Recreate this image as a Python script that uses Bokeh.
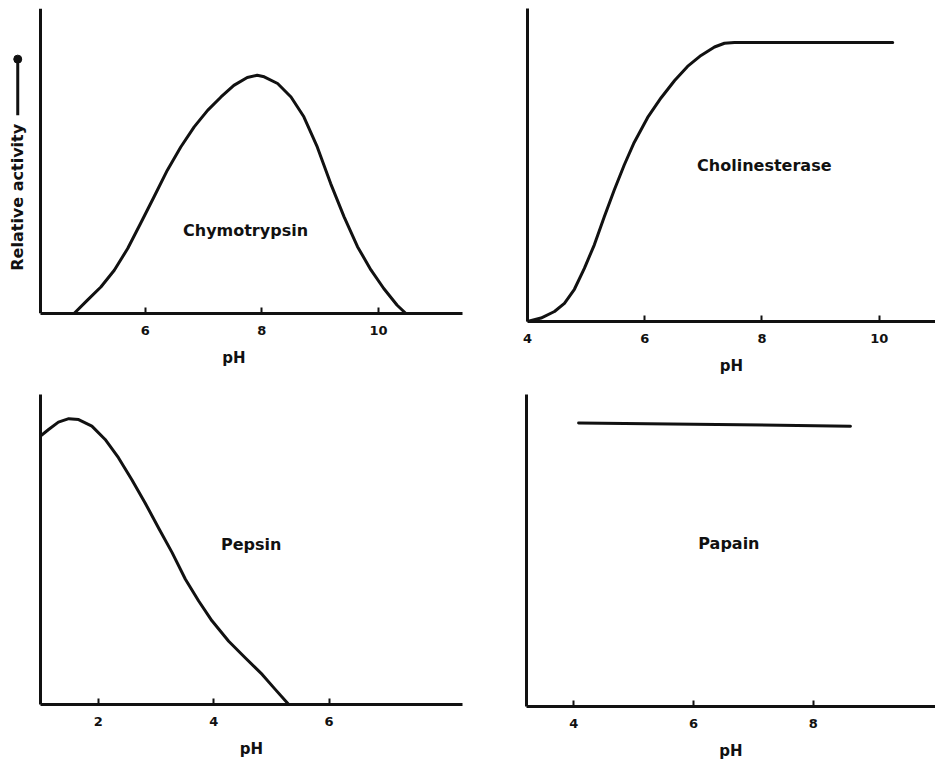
from bokeh.plotting import figure
from bokeh.layouts import column, row
from bokeh.models import FixedTicker, Label, Arrow, Range1d
from bokeh.embed import file_html
from bokeh.resources import INLINE

# ---- data ----
chymo_ph = [4.78, 5.01, 5.24, 5.47, 5.70, 5.92, 6.15, 6.38, 6.61, 6.84, 7.07,
            7.30, 7.52, 7.75, 7.92, 8.04, 8.27, 8.50, 8.72, 8.95, 9.18, 9.41,
            9.64, 9.87, 10.09, 10.32, 10.47]
chymo_act = [0.0, 0.044, 0.087, 0.142, 0.213, 0.295, 0.382, 0.470, 0.546, 0.612,
             0.666, 0.710, 0.748, 0.774, 0.781, 0.776, 0.754, 0.710, 0.645, 0.546,
             0.426, 0.317, 0.219, 0.143, 0.082, 0.027, 0.0]
chymo_ticks = [6, 8, 10]

chol_ph = [4.0, 4.23, 4.46, 4.63, 4.80, 4.97, 5.14, 5.31, 5.48, 5.65, 5.82,
           6.05, 6.28, 6.51, 6.73, 6.96, 7.19, 7.36, 7.53, 10.23]
chol_act = [0.0, 0.011, 0.032, 0.058, 0.103, 0.17, 0.245, 0.335, 0.42, 0.50,
            0.572, 0.652, 0.715, 0.77, 0.815, 0.85, 0.877, 0.889, 0.891, 0.891]
chol_ticks = [4, 6, 8, 10]

pepsin_ph = [1.0, 1.14, 1.31, 1.49, 1.66, 1.89, 2.12, 2.35, 2.58, 2.81, 3.05,
             3.28, 3.51, 3.74, 3.97, 4.26, 4.55, 4.84, 5.07, 5.30]
pepsin_act = [0.866, 0.887, 0.911, 0.922, 0.919, 0.898, 0.855, 0.796, 0.726, 0.651,
              0.568, 0.490, 0.404, 0.334, 0.270, 0.204, 0.150, 0.097, 0.048, 0.0]
pepsin_ticks = [2, 4, 6]

papain_ph = [4.08, 6.0, 8.62]
papain_act = [0.909, 0.905, 0.898]
papain_ticks = [4, 6, 8]

FONT = "DejaVu Sans"
INK = "#111111"


def panel(xs, ys, xr, yr, ticks, fw, fh, bl, bt, bb, br, name, lx, ly):
    p = figure(frame_width=fw, frame_height=fh,
               x_range=Range1d(*xr), y_range=Range1d(*yr),
               output_backend="svg", toolbar_location=None,
               min_border_left=bl, min_border_top=bt,
               min_border_bottom=bb, min_border_right=br)
    p.outline_line_color = None
    p.xgrid.visible = False
    p.ygrid.visible = False
    p.background_fill_color = "white"
    p.border_fill_color = "white"

    p.line(xs, ys, line_width=3, line_color=INK, line_join="round", line_cap="round")

    ax = p.xaxis[0]
    ax.ticker = FixedTicker(ticks=ticks)
    ax.axis_line_width = 3
    ax.axis_line_color = INK
    ax.major_tick_in = 6
    ax.major_tick_out = 0
    ax.major_tick_line_width = 2
    ax.major_tick_line_color = INK
    ax.minor_tick_in = 0
    ax.minor_tick_out = 0
    ax.major_label_text_font = FONT
    ax.major_label_text_font_style = "bold"
    ax.major_label_text_font_size = "13px"
    ax.major_label_text_color = INK
    ax.major_label_standoff = 12
    ax.axis_label = "pH"
    ax.axis_label_text_font = FONT
    ax.axis_label_text_font_style = "bold"
    ax.axis_label_text_font_size = "15px"
    ax.axis_label_text_color = INK
    ax.axis_label_standoff = 11

    ay = p.yaxis[0]
    ay.ticker = FixedTicker(ticks=[])
    ay.axis_line_width = 3
    ay.axis_line_color = INK
    ay.major_tick_in = 0
    ay.major_tick_out = 0
    ay.minor_tick_in = 0
    ay.minor_tick_out = 0

    p.add_layout(Label(x=lx, y=ly, text=name, text_align="center",
                       text_baseline="middle", text_font=FONT,
                       text_font_style="bold", text_font_size="16px",
                       text_color=INK))
    return p


# panel 1: the frame reaches left of the y axis to hold the axis caption
p1 = panel(chymo_ph, chymo_act, (3.605, 11.44), (0, 1.0), chymo_ticks,
           457, 305, 5, 8, 67, 8, "Chymotrypsin", 7.72, 0.273)
p1.yaxis[0].fixed_location = 4.21
p1.xaxis[0].bounds = (4.21, 11.44)

p2 = panel(chol_ph, chol_act, (4.0, 10.96), (0, 1.0), chol_ticks,
           408, 313, 57, 5, 62, 0, "Cholinesterase", 8.04, 0.499)
p3 = panel(pepsin_ph, pepsin_act, (1.0, 8.31), (0, 1.0), pepsin_ticks,
           422, 310, 40, 12, 50, 8, "Pepsin", 4.65, 0.516)
p4 = panel(papain_ph, papain_act, (3.21, 10.04), (0, 1.0), papain_ticks,
           409, 312, 56, 14, 50, 0, "Papain", 6.59, 0.523)

# y-axis caption with its arrow on the first panel
cap_x = 3.815
arrow_y0, arrow_y1 = 0.650, 0.826
p1.add_layout(Label(x=cap_x, y=0.381, text="Relative activity", angle=90,
                    angle_units="deg", text_align="center", text_baseline="middle",
                    text_font=FONT, text_font_style="bold", text_font_size="16px",
                    text_color=INK))
p1.add_layout(Arrow(x_start=cap_x, y_start=arrow_y0, x_end=cap_x, y_end=arrow_y1,
                    end=None, line_width=3, line_color=INK))
p1.scatter([cap_x], [arrow_y1 + 0.008], size=8, marker="circle",
           fill_color=INK, line_color=INK)

layout = column(row(p1, p2), row(p3, p4))

open("out.html", "w").write(file_html(layout, INLINE))
